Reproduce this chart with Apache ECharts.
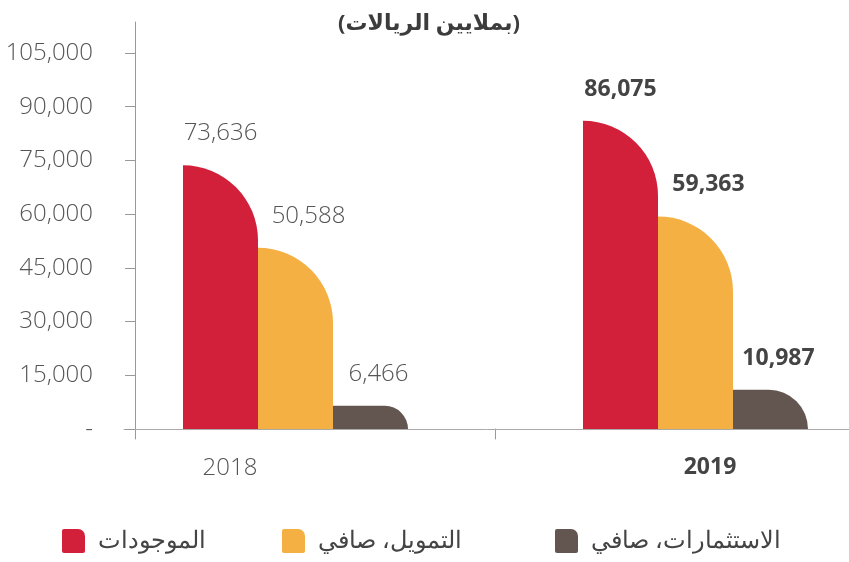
<!DOCTYPE html>
<html>
<head>
<meta charset="utf-8">
<script src="https://cdn.jsdelivr.net/npm/echarts@6/dist/echarts.min.js"></script>
<style>
  html, body { margin: 0; padding: 0; background: #fff; }
  #chart { width: 849px; height: 562px; }
</style>
</head>
<body>
<div id="chart"></div>
<script>
const years = ['2018', '2019'];
const seriesNames = ['الموجودات', 'التمويل، صافي', 'الاستثمارات، صافي'];
const assets = [73636, 86075];
const financing = [50588, 59363];
const investments = [6466, 10987];
const yTicks = [0, 15000, 30000, 45000, 60000, 75000, 90000, 105000];
const titleText = '(بملايين الريالات)';

const colors = ['#D21F3A', '#F5B043', '#635650'];
const font = "'Open Sans', 'DejaVu Sans', sans-serif";
const labelOffsets = [[0, 0], [13, 0], [8, 0]];
const legendLefts = [62, 282, 555];

const chart = echarts.init(document.getElementById('chart'));

const makeSeries = (name, values, i) => ({
  name: name,
  type: 'bar',
  barWidth: 75,
  barGap: '0%',
  itemStyle: { color: colors[i], borderRadius: [0, 75, 0, 0] },
  label: {
    show: true,
    position: 'top',
    distance: 20,
    offset: labelOffsets[i],
    fontFamily: font,
    fontSize: 24,
    color: '#555',
    formatter: p => p.value.toLocaleString('en-US')
  },
  data: values.map((v, j) => j === 1
    ? { value: v, label: { fontWeight: 'bold', fontSize: 23, color: '#444' } }
    : { value: v, label: { fontWeight: 300 } })
});

const legendIcon = 'path://M2,0 L16,0 A7,7 0 0 1 23,7 L23,22 A2,2 0 0 1 21,24 L2,24 A2,2 0 0 1 0,22 L0,2 A2,2 0 0 1 2,0 Z';

// bare axis line used for the axis extensions and the baseline
const lineOnly = (extra) => Object.assign({
  type: 'value',
  axisLine: { show: true, onZero: false, lineStyle: { color: '#999', width: 1 } },
  axisTick: { show: false },
  axisLabel: { show: false },
  splitLine: { show: false }
}, extra);

const option = {
  textStyle: { fontFamily: font },
  title: {
    text: titleText,
    left: 424,
    top: 8,
    textAlign: 'center',
    textStyle: { fontFamily: font, fontSize: 22, fontWeight: 'bold', color: '#3c3c3c' }
  },
  legend: seriesNames.map((name, i) => ({
    left: legendLefts[i],
    top: 529,
    padding: 0,
    itemWidth: 23,
    itemHeight: 24,
    icon: legendIcon,
    textStyle: { fontFamily: font, fontSize: 24, fontWeight: 300, color: '#444', padding: [0, 0, 0, 8] },
    data: [name]
  })),
  grid: [
    { left: 95.5, width: 800, top: 53, bottom: 133, outerBoundsMode: 'none' },
    { left: 135, right: 0, top: 22, bottom: 123, outerBoundsMode: 'none' },
    { left: 124, right: 0, top: 53, bottom: 133, outerBoundsMode: 'none' },
    { left: 135, width: 360.5, top: 429, height: 10, outerBoundsMode: 'none' }
  ],
  xAxis: [
    {
      type: 'category',
      gridIndex: 0,
      data: years,
      axisLine: { show: false },
      axisTick: { show: false },
      axisLabel: {
        margin: 27,
        fontFamily: font,
        fontSize: 24,
        color: '#555',
        formatter: (v) => v === '2019' ? '{b|' + v + '}' : '{a|' + v + '}',
        rich: {
          a: { fontFamily: font, fontSize: 24, color: '#555', fontWeight: 300, padding: [0, 131, 0, 0] },
          b: { fontFamily: font, fontSize: 23, color: '#444', fontWeight: 'bold', padding: [0, 0, 0, 29] }
        }
      }
    },
    { type: 'value', gridIndex: 1, show: false },
    lineOnly({ gridIndex: 2, axisLine: { show: true, onZero: false, lineStyle: { color: '#aaa', width: 1 } } }),
    { type: 'value', gridIndex: 3, show: false }
  ],
  yAxis: [
    {
      type: 'value',
      gridIndex: 0,
      min: yTicks[0],
      max: yTicks[yTicks.length - 1],
      interval: yTicks[1] - yTicks[0],
      offset: -39.5,
      axisLine: { show: false },
      axisTick: { show: true, length: 10, lineStyle: { color: '#999' } },
      splitLine: { show: false },
      axisLabel: {
        margin: 42,
        fontFamily: font,
        fontSize: 24,
        fontWeight: 300,
        color: '#555',
        formatter: (v) => v === 0 ? '-' : v.toLocaleString('en-US')
      }
    },
    lineOnly({ gridIndex: 1 }),
    { type: 'value', gridIndex: 2, show: false },
    lineOnly({ gridIndex: 3, position: 'right' })
  ],
  series: [
    makeSeries(seriesNames[0], assets, 0),
    makeSeries(seriesNames[1], financing, 1),
    makeSeries(seriesNames[2], investments, 2)
  ]
};

chart.setOption(option);
</script>
</body>
</html>
